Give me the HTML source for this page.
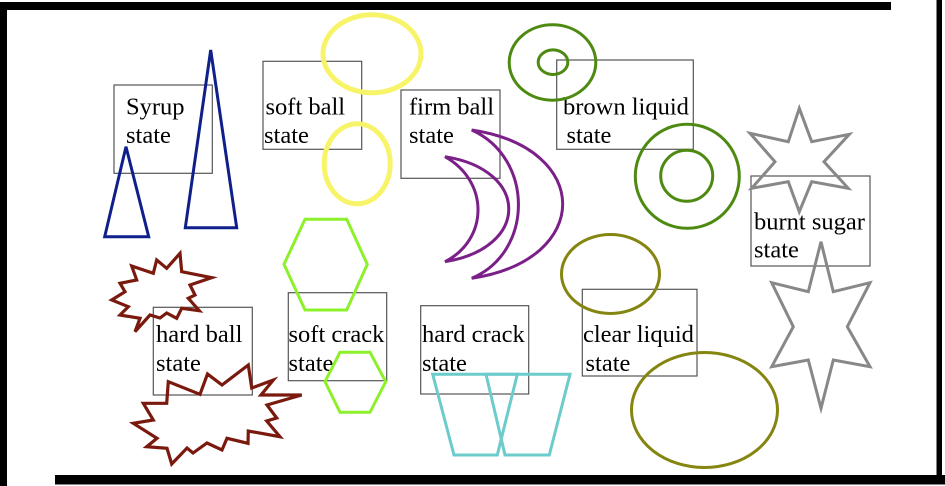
<!DOCTYPE html>
<html>
<head>
<meta charset="utf-8">
<style>
html,body{margin:0;padding:0;background:#fff;}
svg{display:block;}
text{font-family:"Liberation Serif","Times New Roman",serif;font-size:24.5px;fill:#000;}
</style>
</head>
<body>
<svg width="945" height="486" viewBox="0 0 945 486" xmlns="http://www.w3.org/2000/svg">
  <rect x="0" y="0" width="945" height="486" fill="#fff"/>
  <!-- frame bars -->
  <rect x="0" y="2" width="891" height="8" fill="#000"/>
  <rect x="0" y="2" width="7" height="484" fill="#000"/>
  <rect x="936.5" y="0" width="5.5" height="477" fill="#000"/>
  <rect x="55" y="475" width="890" height="9.5" fill="#000"/>

  <!-- boxes -->
  <g fill="none" stroke="#555" stroke-width="1.2">
    <rect x="114" y="85" width="98.3" height="88.3"/>
    <rect x="263" y="61.3" width="98.7" height="88"/>
    <rect x="401" y="90" width="99" height="88.3"/>
    <rect x="556.7" y="60" width="136.6" height="89.3"/>
    <rect x="751" y="176" width="119" height="90"/>
    <rect x="153.3" y="307.3" width="99" height="87.7"/>
    <rect x="288.3" y="292.7" width="98.4" height="88"/>
    <rect x="420.7" y="305.7" width="108" height="88.3"/>
    <rect x="582.3" y="289.3" width="114.7" height="86.7"/>
  </g>

  <!-- labels -->
  <text x="126" y="114.5">Syrup</text>
  <text x="126" y="143">state</text>
  <text x="265.5" y="114.5">soft ball</text>
  <text x="264" y="143">state</text>
  <text x="409" y="114.5">firm ball</text>
  <text x="409" y="143">state</text>
  <text x="563" y="114.5">brown liquid</text>
  <text x="566.5" y="143">state</text>
  <text x="754" y="229.5">burnt sugar</text>
  <text x="754" y="257.5">state</text>
  <text x="156" y="342">hard ball</text>
  <text x="156" y="371">state</text>
  <text x="288.5" y="342">soft crack</text>
  <text x="288.5" y="371">state</text>
  <text x="422" y="342">hard crack</text>
  <text x="422" y="371">state</text>
  <text x="583" y="342">clear liquid</text>
  <text x="585.5" y="371">state</text>

  <!-- navy triangles -->
  <g fill="none" stroke="#10208a" stroke-width="3" stroke-linejoin="miter">
    <polygon points="126,146.7 104.7,236.7 148.7,236.7"/>
    <polygon points="210.7,50 185.3,227.7 236.7,227.7"/>
  </g>

  <!-- yellow ellipses -->
  <g fill="none" stroke="#f8f46a" stroke-width="5">
    <ellipse cx="372" cy="53.8" rx="49" ry="39"/>
    <ellipse cx="357.2" cy="163.8" rx="33" ry="40"/>
  </g>

  <!-- green circles -->
  <g fill="none" stroke="#4e8a12" stroke-width="3">
    <ellipse cx="552.5" cy="62.5" rx="43.3" ry="37.7"/>
    <ellipse cx="553" cy="62.2" rx="14.8" ry="12.3"/>
    <ellipse cx="687.3" cy="176.3" rx="52" ry="52"/>
    <ellipse cx="686.7" cy="175.8" rx="26" ry="25.5"/>
  </g>

  <!-- purple crescents -->
  <g fill="none" stroke="#7a2088" stroke-width="3" stroke-linejoin="miter">
    <path d="M445,156.7 C530,170 530,248 445,261.7 C488,240 490,182 445,156.7 Z"/>
    <path d="M471.7,130 C593,148 593,260 471.7,278.3 C534,252 534,158 471.7,130 Z"/>
  </g>

  <!-- gray stars -->
  <g fill="none" stroke="#888" stroke-width="3" stroke-linejoin="miter">
    <polygon points="799.3,108.3 811.7,141.7 849.3,134.3 824,161.7 848.3,188.3 811.7,181.7 799.3,211.7 788.3,181.7 751.7,188.3 775,161.7 750,133.3 788.3,141.7"/>
    <polygon points="821,241.7 833.3,291.7 870,282.7 847.3,326.7 870,366.7 833.3,360 821,408.3 808.3,360 771.7,366.7 793.3,326.7 771.7,282.7 808.3,291.7"/>
  </g>

  <!-- lime hexagons -->
  <g fill="none" stroke="#8cf02a" stroke-width="3">
    <polygon points="305,219.3 346.7,219.3 367.3,264.3 346.7,310 305,310 284,264.3"/>
    <polygon points="340,352.3 370,352.3 385.7,381.7 370,412.3 340,412.3 325,381.7"/>
  </g>

  <!-- cyan trapezoids -->
  <g fill="none" stroke="#6ccccc" stroke-width="3">
    <polygon points="432.7,374.3 517.3,374.3 497.3,455 454,455"/>
    <polygon points="486,374.3 570,374.3 549.3,455 505,455"/>
  </g>

  <!-- olive ellipses -->
  <g fill="none" stroke="#858512" stroke-width="3">
    <ellipse cx="610.5" cy="274" rx="49" ry="39.5"/>
    <ellipse cx="704.5" cy="410" rx="73" ry="57.5"/>
  </g>

  <!-- explosions -->
  <g fill="none" stroke="#7a1a0e" stroke-width="3.2" stroke-linejoin="miter">
    <polygon points="131.7,266 153.3,273.3 156.7,260 166.7,268.3 180,253.3 181.7,271.7 211.7,277.7 190,285 195,295 188.3,298.3 199.3,310.7 181.7,308.3 176.7,318.3 166.7,313 160,318 150,315 135,331.7 140,318.3 120,315 128.3,306.7 111.7,300 125,291.7 120,283.3 136.7,280"/>
    <polygon points="168.3,381.7 200,394.3 207.5,374 222,385 248.3,365 251.7,388 273.3,380 261,395 301.7,395 267,405 276.7,418 266.7,421 280,436.7 248.3,431 248,443.3 227,438.3 222,450 207,443 193,453 187,448 171.7,464 167,448.3 146.7,446.7 157,438.3 133.3,423.3 153.3,420 143.3,403.3 166.7,403.3"/>
  </g>
</svg>
</body>
</html>
